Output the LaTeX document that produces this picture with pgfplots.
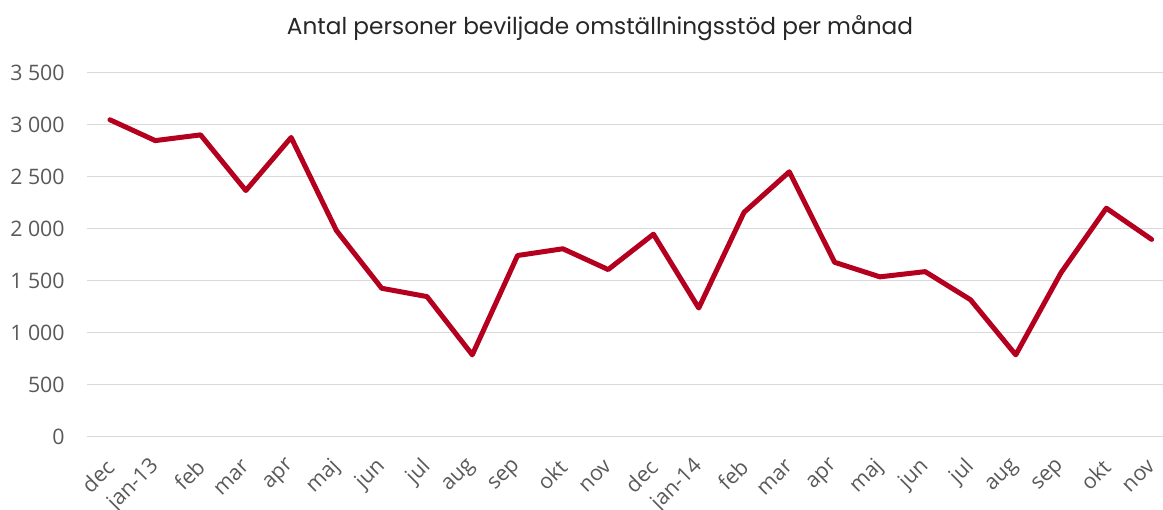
\documentclass[border=0pt]{standalone}
\usepackage{pgfplots}
\pgfplotsset{compat=1.18}
\usepackage{fontspec}
\setmainfont{Open Sans}
\newfontfamily\titlefont{Poppins}
\definecolor{linered}{RGB}{180,0,30}
\definecolor{gridgray}{RGB}{217,217,217}
\definecolor{ticktext}{RGB}{89,89,89}
\begin{document}
\begin{tikzpicture}
\begin{axis}[
 at={(65.5pt,54.75pt)}, anchor=south west,
 scale only axis, width=806.7pt, height=273pt,
 xmin=-0.5, xmax=23.25, ymin=0, ymax=3500,
 ytick={0,500,...,3500},
 xtick={0,...,23},
 xticklabels={dec,jan-13,feb,mar,apr,maj,jun,jul,aug,sep,okt,nov,dec,jan-14,feb,mar,apr,maj,jun,jul,aug,sep,okt,nov},
 ymajorgrids, grid style={gridgray, line width=0.75pt},
 axis line style={draw=none},
 major tick length=0pt,
 tick label style={font=\fontsize{16}{18}\selectfont, text=ticktext},
 /pgf/number format/assume math mode=true,
 /pgf/number format/1000 sep={\ },
 yticklabel style={anchor=east, xshift=-13.5pt},
 xticklabel style={xshift=1pt, yshift=-19pt, rotate=45, anchor=east, inner sep=1pt},
 clip=false,
]
\addplot[linered, line width=3.75pt, line join=round, line cap=round] coordinates {
(0,3050) (1,2850) (2,2905) (3,2370) (4,2880) (5,1985) (6,1430) (7,1350)
(8,790) (9,1745) (10,1810) (11,1610) (12,1950) (13,1240) (14,2160) (15,2550)
(16,1680) (17,1540) (18,1590) (19,1320) (20,790) (21,1580) (22,2200) (23,1900)};
\end{axis}
\node[font=\titlefont\fontsize{17.4}{20}\selectfont, text=black!85] at (450pt,361.5pt) {Antal personer beviljade omställningsstöd per månad};
\pgfresetboundingbox
\useasboundingbox (0,0) rectangle (872.25pt,382.5pt);
\end{tikzpicture}
\end{document}
